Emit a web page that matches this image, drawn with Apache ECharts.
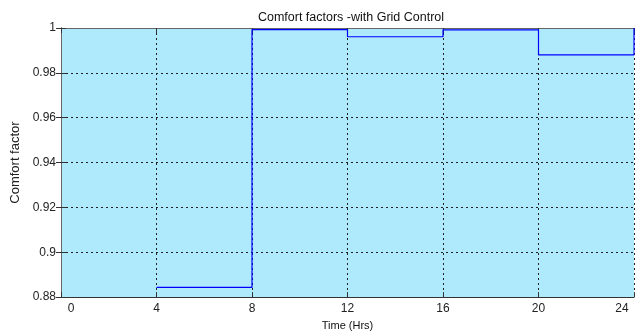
<!DOCTYPE html>
<html>
<head>
<meta charset="utf-8">
<script src="https://cdn.jsdelivr.net/npm/echarts@6/dist/echarts.min.js"></script>
<style>html,body{margin:0;padding:0;background:#fff}#c{width:641px;height:336px}</style>
</head>
<body>
<div id="c"></div>
<script>
const title = 'Comfort factors -with Grid Control';
const xName = 'Time (Hrs)';
const yName = 'Comfort factor';
const hours = [4, 8, 12, 16, 20, 24];
const comfort = [0.8843, 0.9993, 0.9961, 0.9992, 0.988, 1.0];
const xTicks = [0, 4, 8, 12, 16, 20, 24];
const yTicks = [0.88, 0.9, 0.92, 0.94, 0.96, 0.98, 1];

const chart = echarts.init(document.getElementById('c'), null, {renderer: 'canvas'});
const font = 'Liberation Sans, Arial, sans-serif';
const axisCol = '#333';
const gridLine = {show: true, lineStyle: {color: '#222', type: [2, 3], width: 1}};
chart.setOption({
  backgroundColor: '#fff',
  animation: false,
  title: {
    text: title, left: 346, top: 6, textAlign: 'center',
    textStyle: {fontFamily: font, fontSize: 12.5, fontWeight: 'normal', color: '#111'}
  },
  grid: {left: 61, right: 7, top: 28, bottom: 36, show: true, backgroundColor: '#AEEAFB', borderWidth: 0},
  xAxis: [{
    type: 'value', min: xTicks[0], max: xTicks[xTicks.length - 1], interval: 4,
    name: xName, nameLocation: 'middle', nameGap: 21,
    nameTextStyle: {fontFamily: font, fontSize: 11, color: '#111'},
    axisLine: {show: true, onZero: false, lineStyle: {color: axisCol, width: 1}},
    axisTick: {show: true, inside: true, length: 5, lineStyle: {color: axisCol}},
    axisLabel: {
      fontFamily: font, fontSize: 12, color: '#222', margin: 6,
      formatter: function (v) {
        if (v === xTicks[0]) return '{l|' + v + '}';
        if (v === xTicks[xTicks.length - 1]) return '{r|' + v + '}';
        return String(v);
      },
      rich: {
        l: {fontFamily: font, fontSize: 12, color: '#222', padding: [0, 0, 0, 20]},
        r: {fontFamily: font, fontSize: 12, color: '#222', padding: [0, 24, 0, 0]}
      }
    },
    splitLine: gridLine
  }, {
    type: 'value', position: 'top', min: xTicks[0], max: xTicks[xTicks.length - 1], interval: 4,
    axisLine: {show: true, lineStyle: {color: '#666', width: 1}},
    axisTick: {show: true, inside: true, length: 5, lineStyle: {color: axisCol}},
    axisLabel: {show: false}, splitLine: {show: false}
  }],
  yAxis: [{
    type: 'value', min: yTicks[0], max: yTicks[yTicks.length - 1], interval: 0.02,
    name: yName, nameLocation: 'middle', nameGap: 38, nameRotate: 90,
    nameTextStyle: {fontFamily: font, fontSize: 13, color: '#222'},
    axisLine: {show: true, lineStyle: {color: '#111', width: 1}},
    axisTick: {show: true, inside: true, length: 5, lineStyle: {color: axisCol}},
    axisLabel: {fontFamily: font, fontSize: 12, color: '#222', margin: 5},
    splitLine: gridLine
  }, {
    type: 'value', position: 'right', min: yTicks[0], max: yTicks[yTicks.length - 1], interval: 0.02,
    axisLine: {show: true, lineStyle: {color: '#666', width: 1}},
    axisTick: {show: true, inside: true, length: 5, lineStyle: {color: axisCol}},
    axisLabel: {show: false}, splitLine: {show: false}
  }],
  series: [{
    type: 'line', step: 'end', showSymbol: false, symbol: 'none',
    data: hours.map((h, i) => [h, comfort[i]]),
    lineStyle: {color: '#0000FF', width: 1.2},
    clip: true
  }]
});
</script>
</body>
</html>
